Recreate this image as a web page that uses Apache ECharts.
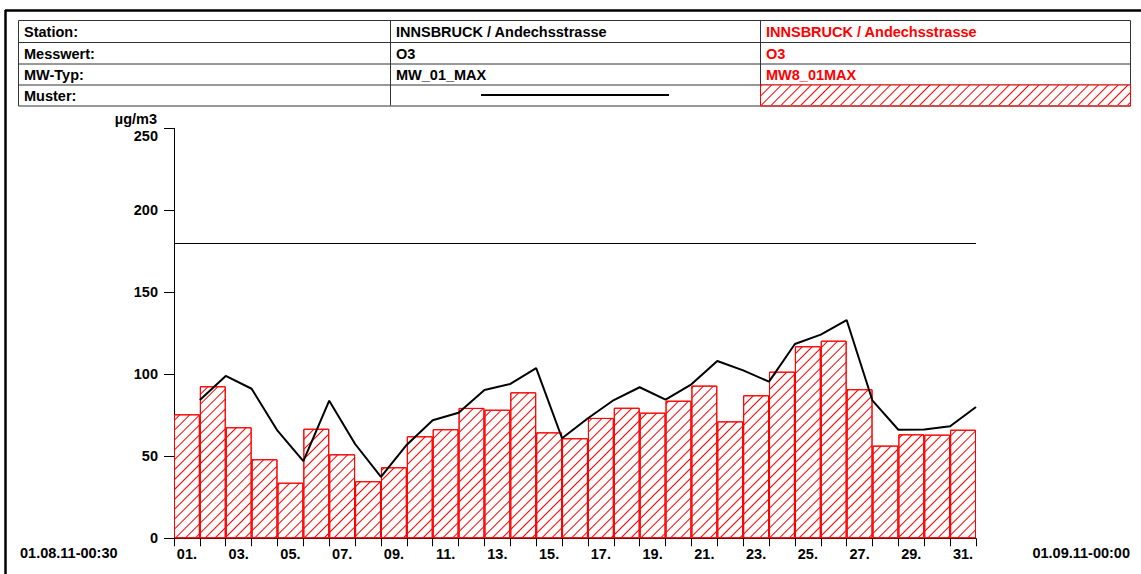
<!DOCTYPE html>
<html>
<head>
<meta charset="utf-8">
<script src="https://cdn.jsdelivr.net/npm/echarts@6/dist/echarts.min.js"></script>
<style>
  html, body { margin: 0; padding: 0; background: #fff; }
  #chart { width: 1141px; height: 574px; }
</style>
</head>
<body>
<div id="chart"></div>
<script>
// O3, INNSBRUCK / Andechsstrasse, August 2011
const days = ['01.', '02.', '03.', '04.', '05.', '06.', '07.', '08.', '09.', '10.',
  '11.', '12.', '13.', '14.', '15.', '16.', '17.', '18.', '19.', '20.',
  '21.', '22.', '23.', '24.', '25.', '26.', '27.', '28.', '29.', '30.', '31.']
// MW8_01MAX (bars)
const mw8Max = [75.6, 92.7, 67.7, 48.2, 33.9, 66.8, 51.2, 34.8, 43.3, 62.2,
  66.5, 79.5, 78.4, 89.0, 64.6, 61.0, 73.4, 79.6, 76.6, 83.9,
  93.1, 71.3, 87.2, 101.6, 117.1, 120.5, 90.9, 56.5, 63.4, 63.2, 66.2]
// MW_01_MAX (line, value at end of each day)
const mw01Max = [84.3, 99.0, 91.2, 65.6, 47.1, 83.9, 57.5, 37.4, 57.1, 72.0,
  76.6, 90.4, 94.1, 103.8, 61.0, 73.2, 84.3, 92.1, 84.5, 93.9,
  108.1, 102.4, 95.5, 118.5, 124.2, 133.1, 83.9, 66.2, 66.4, 68.3, 80.1]
const limitValue = 180
const tableRows = [
  ['Station:', 'INNSBRUCK / Andechsstrasse', 'INNSBRUCK / Andechsstrasse'],
  ['Messwert:', 'O3', 'O3'],
  ['MW-Typ:', 'MW_01_MAX', 'MW8_01MAX'],
  ['Muster:', '', '']
]
const startLabel = '01.08.11-00:30'
const endLabel = '01.09.11-00:00'

const font = 'Liberation Sans, Arial, sans-serif'
const fs = 14.5
const hatch = {
  symbol: 'rect',
  symbolSize: 1,
  color: '#ff0000',
  backgroundColor: '#fff',
  dashArrayX: [1, 0],
  dashArrayY: [1, 5.5],
  rotation: -Math.PI / 4
}

// table graphics
const rowY = [20, 42, 63.5, 84.5, 105.5]
const colX = [18, 390, 760, 1130]
const graphic = [
  { type: 'line', shape: { x1: 5, y1: 10.5, x2: 1141, y2: 10.5 }, style: { stroke: '#000', lineWidth: 2.5 } },
  { type: 'line', shape: { x1: 5.5, y1: 10, x2: 5.5, y2: 574 }, style: { stroke: '#000', lineWidth: 2.5 } },
  { type: 'rect', shape: { x: colX[0] + 0.5, y: rowY[0] + 0.5, width: colX[3] - colX[0], height: rowY[4] - rowY[0] }, style: { fill: 'none', stroke: '#333', lineWidth: 1 } }
]
rowY.slice(1, 4).forEach(y => {
  graphic.push({ type: 'line', shape: { x1: colX[0], y1: y + 0.5, x2: colX[3], y2: y + 0.5 }, style: { stroke: '#333', lineWidth: 1 } })
})
colX.slice(1, 3).forEach(x => {
  graphic.push({ type: 'line', shape: { x1: x + 0.5, y1: rowY[0], x2: x + 0.5, y2: rowY[4] }, style: { stroke: '#333', lineWidth: 1 } })
})
graphic.push({ type: 'rect', shape: { x: colX[2] + 0.5, y: rowY[3] + 0.5, width: colX[3] - colX[2], height: rowY[4] - rowY[3] }, style: { fill: 'none', stroke: '#ff0000', lineWidth: 1 }, z: 10 })
tableRows.forEach((row, r) => {
  const cy = (rowY[r] + rowY[r + 1]) / 2 + 1
  row.forEach((txt, c) => {
    if (!txt) return
    graphic.push({
      type: 'text',
      x: colX[c] + 6,
      y: cy,
      style: { text: txt, font: 'bold ' + fs + 'px ' + font, fill: c === 2 ? '#ff0000' : '#000', verticalAlign: 'middle' }
    })
  })
})
graphic.push({ type: 'text', x: 20, y: 553, style: { text: startLabel, font: 'bold ' + fs + 'px ' + font, fill: '#000', verticalAlign: 'middle' } })
graphic.push({ type: 'text', x: 1130, y: 553, style: { text: endLabel, font: 'bold ' + fs + 'px ' + font, fill: '#000', align: 'right', verticalAlign: 'middle' } })

const chart = echarts.init(document.getElementById('chart'), null, { renderer: 'svg' })
chart.setOption({
  animation: false,
  backgroundColor: '#fff',
  textStyle: { fontFamily: font },
  graphic: graphic,
  legend: [
    {
      data: [{ name: 'MW_01_MAX' }],
      left: 480,
      top: 90,
      itemWidth: 188,
      itemHeight: 10,
      padding: 0,
      selectedMode: false,
      formatter: () => '',
      itemStyle: { opacity: 0 },
      lineStyle: { color: '#000', width: 2 },
      textStyle: { padding: 0 }
    },
    {
      data: [{ name: 'MW8_01MAX', icon: 'rect' }],
      left: 761,
      top: 85,
      itemWidth: 369,
      itemHeight: 20,
      padding: 0,
      selectedMode: false,
      formatter: () => '',
      itemStyle: { borderWidth: 0 },
      textStyle: { padding: 0 }
    }
  ],
  grid: {
    left: 174,
    right: 165,
    top: 128.3,
    bottom: 35.7
  },
  xAxis: [
    {
      type: 'category',
      data: days,
      boundaryGap: true,
      axisLine: { show: true, lineStyle: { color: '#000', width: 1 } },
      axisTick: { show: true, interval: 0, length: 8, lineStyle: { color: '#000' } },
      axisLabel: { interval: 1, color: '#000', fontWeight: 'bold', fontSize: fs, margin: 8 },
      splitLine: { show: false }
    },
    {
      type: 'value',
      min: 0,
      max: days.length,
      show: false
    }
  ],
  yAxis: {
    type: 'value',
    min: 0,
    max: 250,
    interval: 50,
    name: 'µg/m3',
    nameLocation: 'end',
    nameGap: 2,
    nameTextStyle: { color: '#000', fontWeight: 'bold', fontSize: fs, align: 'right', padding: [0, 17, 0, 0] },
    axisLine: { show: true, lineStyle: { color: '#000', width: 1 } },
    axisTick: { show: true, length: 10, lineStyle: { color: '#000' } },
    axisLabel: {
      color: '#000',
      fontWeight: 'bold',
      fontSize: fs,
      margin: 16,
      formatter: v => v === 250 ? '{top|250}' : String(v),
      rich: { top: { fontWeight: 'bold', fontSize: fs, color: '#000', padding: [16, 0, 0, 0] } }
    },
    splitLine: { show: false }
  },
  series: [
    {
      name: 'MW8_01MAX',
      type: 'bar',
      xAxisIndex: 0,
      data: mw8Max,
      barCategoryGap: '0%',
      itemStyle: { color: '#fff', borderColor: '#ff0000', borderWidth: 1, decal: hatch },
      z: 2
    },
    {
      name: 'MW_01_MAX',
      type: 'line',
      xAxisIndex: 1,
      data: mw01Max.map((v, i) => [i + 1, v]),
      symbol: 'none',
      showSymbol: false,
      lineStyle: { color: '#000', width: 2 },
      itemStyle: { color: '#000' },
      z: 3,
      markLine: {
        silent: true,
        symbol: 'none',
        label: { show: false },
        lineStyle: { color: '#000', width: 1, type: 'solid' },
        data: [{ yAxis: limitValue }]
      }
    }
  ]
})
</script>
</body>
</html>
